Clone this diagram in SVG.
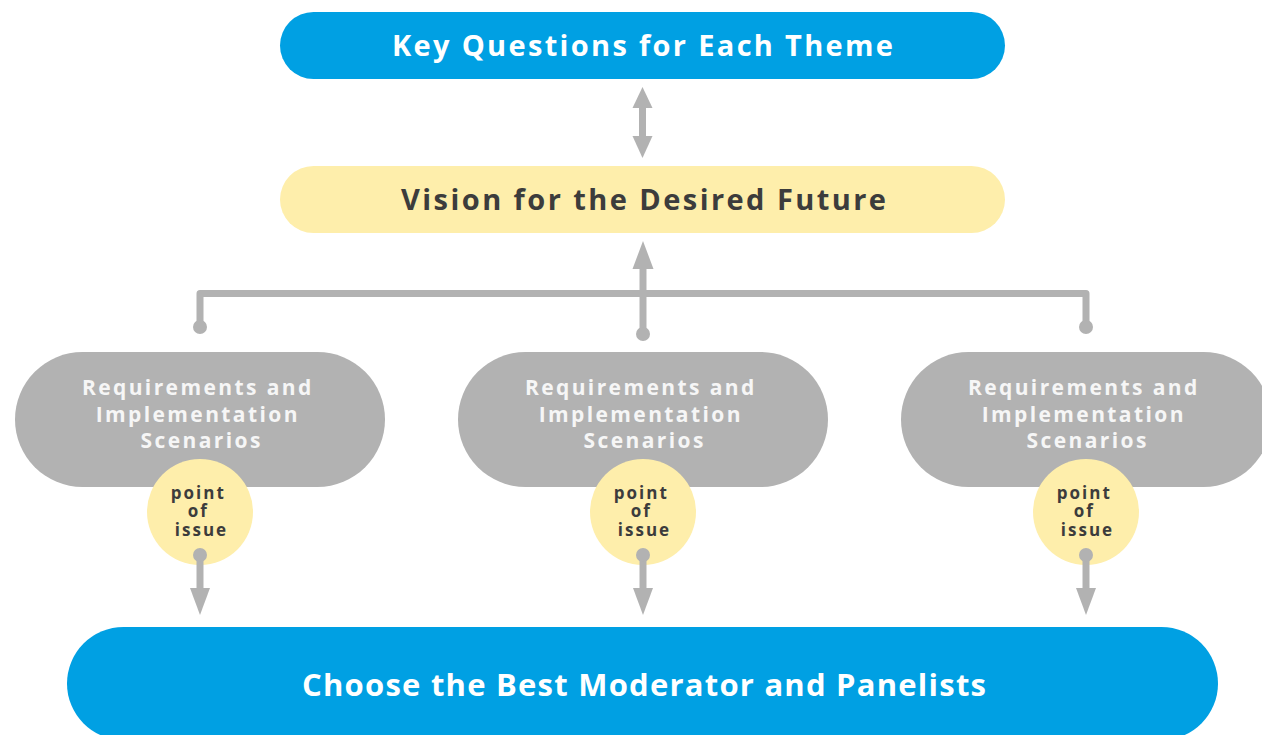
<svg xmlns="http://www.w3.org/2000/svg" width="1262" height="735" viewBox="0 0 1262 735">
  <style>
    .blue { fill: #00a0e3; }
    .yellow { fill: #feeeab; }
    .gray { fill: #b2b2b2; }
    .t { font-family: "Open Sans", "Noto Sans", "DejaVu Sans", sans-serif; font-weight: 700; text-anchor: middle; }
    .w { fill: #ffffff; }
    .lw { fill: #f6f6f6; font-size: 21px; letter-spacing: 2.4px; }
    .d { fill: #3c3c3c; }
    .pt { font-size: 17px; letter-spacing: 2px; }
    .line { fill: none; stroke: #b2b2b2; stroke-width: 7; stroke-linejoin: round; }
    .ah { fill: #b2b2b2; }
  </style>

  <g id="node-key-questions">
    <rect class="blue" x="280" y="12" width="725" height="67" rx="33.5"/>
    <text class="t w" x="642.5" y="55.5" font-size="29" textLength="501" lengthAdjust="spacing">Key Questions for Each Theme</text>
  </g>

  <g id="node-vision">
    <rect class="yellow" x="280" y="166" width="725" height="67" rx="33.5"/>
    <text class="t d" x="643.5" y="210" font-size="29" textLength="485" lengthAdjust="spacing">Vision for the Desired Future</text>
  </g>

  <g id="node-req-1">
    <rect class="gray" x="15" y="352" width="370" height="135" rx="67.5"/>
    <text class="t lw">
      <tspan x="201.7" y="395">Requirements and</tspan>
      <tspan x="201.7" y="421.5">Implementation</tspan>
      <tspan x="201.7" y="447.5">Scenarios</tspan>
    </text>
  </g>
  <g id="node-req-2">
    <rect class="gray" x="458" y="352" width="370" height="135" rx="67.5"/>
    <text class="t lw">
      <tspan x="644.7" y="395">Requirements and</tspan>
      <tspan x="644.7" y="421.5">Implementation</tspan>
      <tspan x="644.7" y="447.5">Scenarios</tspan>
    </text>
  </g>
  <g id="node-req-3">
    <rect class="gray" x="901" y="352" width="370" height="135" rx="67.5"/>
    <text class="t lw">
      <tspan x="1087.7" y="395">Requirements and</tspan>
      <tspan x="1087.7" y="421.5">Implementation</tspan>
      <tspan x="1087.7" y="447.5">Scenarios</tspan>
    </text>
  </g>

  <g id="node-point-1">
    <circle class="yellow" cx="200" cy="512" r="53"/>
    <text class="t d pt">
      <tspan x="201.5" y="499">point</tspan>
      <tspan x="201.5" y="517">of</tspan>
      <tspan x="201.5" y="536">issue</tspan>
    </text>
  </g>
  <g id="node-point-2">
    <circle class="yellow" cx="643" cy="512" r="53"/>
    <text class="t d pt">
      <tspan x="644.5" y="499">point</tspan>
      <tspan x="644.5" y="517">of</tspan>
      <tspan x="644.5" y="536">issue</tspan>
    </text>
  </g>
  <g id="node-point-3">
    <circle class="yellow" cx="1086" cy="512" r="53"/>
    <text class="t d pt">
      <tspan x="1087.5" y="499">point</tspan>
      <tspan x="1087.5" y="517">of</tspan>
      <tspan x="1087.5" y="536">issue</tspan>
    </text>
  </g>

  <g id="node-choose">
    <rect class="blue" x="67" y="627" width="1151" height="113" rx="56.5"/>
    <text class="t w" x="644" y="696" font-size="31" textLength="684" lengthAdjust="spacing">Choose the Best Moderator and Panelists</text>
  </g>

  <g id="connectors">
    <!-- top double arrow -->
    <line class="line" x1="642.5" y1="105" x2="642.5" y2="138"/>
    <polygon class="ah" points="642.5,87 652.5,108 632.5,108"/>
    <polygon class="ah" points="642.5,158 652.5,136 632.5,136"/>
    <!-- branch -->
    <path class="line" d="M200,327 V293.5 H1086 V327"/>
    <line class="line" x1="643" y1="334" x2="643" y2="266"/>
    <polygon class="ah" points="643,241 653.5,269 632.5,269"/>
    <circle class="ah" cx="200" cy="327" r="7"/>
    <circle class="ah" cx="643" cy="334" r="7"/>
    <circle class="ah" cx="1086" cy="327" r="7"/>
    <!-- bottom arrows -->
    <line class="line" x1="200" y1="555" x2="200" y2="590"/>
    <polygon class="ah" points="200,615 210,588 190,588"/>
    <circle class="ah" cx="200" cy="555" r="7"/>
    <line class="line" x1="643" y1="555" x2="643" y2="590"/>
    <polygon class="ah" points="643,615 653,588 633,588"/>
    <circle class="ah" cx="643" cy="555" r="7"/>
    <line class="line" x1="1086" y1="555" x2="1086" y2="590"/>
    <polygon class="ah" points="1086,615 1096,588 1076,588"/>
    <circle class="ah" cx="1086" cy="555" r="7"/>
  </g>
</svg>
